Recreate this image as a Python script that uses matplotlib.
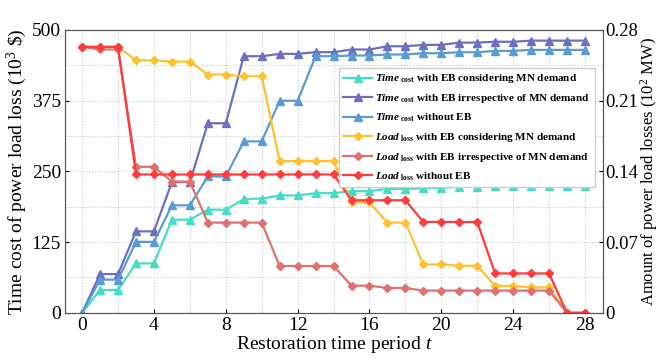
import matplotlib
matplotlib.use('Agg')
from matplotlib import pyplot as plt
from matplotlib.ticker import MultipleLocator

plt.rcParams['font.family'] = ['Liberation Serif', 'DejaVu Serif']
plt.rcParams['mathtext.fontset'] = 'custom'
plt.rcParams['mathtext.rm'] = 'Liberation Serif'
plt.rcParams['mathtext.it'] = 'Liberation Serif:italic'
plt.rcParams['mathtext.bf'] = 'Liberation Serif:bold'
plt.rcParams['mathtext.bfit'] = 'Liberation Serif:italic:bold'

t = list(range(29))

# time cost of power load loss (10^3 $)
time_mn = [0, 40.4, 40.4, 87.3, 87.3, 164.7, 164.7, 182.2, 182.2, 201, 202, 207.4, 207.4,
           211.5, 211.5, 215, 215, 219, 219, 220, 221, 223, 223, 224, 224, 224, 224, 224, 224]
time_irr = [0, 68.5, 68.5, 144, 144, 231, 231, 335, 335, 453.5, 453.5, 457.6, 457.6,
            460.6, 460.6, 465.3, 465.3, 471, 471, 473.5, 473.5, 477.5, 477.5, 479, 479,
            481, 481, 481, 481]
time_noeb = [0, 58.6, 58.6, 125.4, 125.4, 190, 190, 241, 241, 303, 303, 374.7, 374.7,
             453.5, 453.5, 454.7, 454.7, 456.5, 456.5, 458.8, 458.8, 460.5, 460.5,
             462.9, 462.9, 464.6, 464.6, 464.6, 464.6]

# amount of power load losses (10^2 MW)
load_mn = [0.2632, 0.2632, 0.2632, 0.2498, 0.2498, 0.2486, 0.2486, 0.2358, 0.2358, 0.2341,
           0.2341, 0.1501, 0.1501, 0.1501, 0.1501, 0.1092, 0.1092, 0.0893, 0.0893, 0.0479,
           0.0479, 0.0466, 0.0466, 0.0266, 0.0266, 0.0252, 0.0252, 0, 0]
load_irr = [0.2632, 0.2606, 0.2606, 0.1445, 0.1445, 0.1299, 0.1299, 0.0893, 0.0893, 0.0893,
            0.0893, 0.0463, 0.0463, 0.0463, 0.0463, 0.0269, 0.0269, 0.0246, 0.0246, 0.0220,
            0.0220, 0.0220, 0.0220, 0.0220, 0.0220, 0.0220, 0.0220, 0, 0]
load_noeb = [0.2632, 0.2632, 0.2632, 0.1369, 0.1369, 0.1369, 0.1369, 0.1369, 0.1369, 0.1369,
             0.1369, 0.1369, 0.1369, 0.1369, 0.1369, 0.1114, 0.1114, 0.1114, 0.1114, 0.0899,
             0.0899, 0.0899, 0.0899, 0.0390, 0.0390, 0.0390, 0.0390, 0, 0]

tc = r'$\mathbfit{Time}_{\ \mathbf{cost}}$'
ll = r'$\mathbfit{Load}_{\ \mathbf{loss}}$'

fig = plt.figure(figsize=(6.64, 3.6), dpi=100)
ax = fig.add_axes([0.098, 0.131, 0.81, 0.786])
ax2 = ax.twinx()

h1, = ax.plot(t, time_mn, color='#45DCC8', marker='^', ms=5.5, lw=1.6,
              label=tc + ' with EB considering MN demand')
h2, = ax.plot(t, time_irr, color='#6B70C0', marker='^', ms=5.5, lw=1.6,
              label=tc + ' with EB irrespective of MN demand')
h3, = ax.plot(t, time_noeb, color='#5A9BD2', marker='^', ms=5.5, lw=1.6,
              label=tc + ' without EB')
h4, = ax2.plot(t, load_mn, color='#FFC22E', marker='D', ms=4.5, lw=1.6,
               label=ll + ' with EB considering MN demand')
h5, = ax2.plot(t, load_irr, color='#DE7070', marker='D', ms=4.5, lw=1.6,
               label=ll + ' with EB irrespective of MN demand')
h6, = ax2.plot(t, load_noeb, color='#FF3B3B', marker='D', ms=4.5, lw=1.6,
               label=ll + ' without EB')

ax.set_xlim(-0.95, 29)
ax.set_ylim(0, 500)
ax2.set_ylim(0, 0.28)
ax.xaxis.set_major_locator(MultipleLocator(4))
ax.xaxis.set_minor_locator(MultipleLocator(2))
ax.yaxis.set_major_locator(MultipleLocator(125))
ax.yaxis.set_minor_locator(MultipleLocator(62.5))
ax2.set_yticks([0, 0.07, 0.14, 0.21, 0.28])
ax2.set_yticklabels(['0', '0.07', '0.14', '0.21', '0.28'])

ax.grid(True, which='both', linestyle=':', color='#c8c8c8', lw=0.8)
ax.set_axisbelow(True)

for a in (ax, ax2):
    a.tick_params(which='major', direction='in', length=3, labelsize=14, pad=3)
    a.tick_params(which='minor', length=0)
    for s in a.spines.values():
        s.set_color('#555555')
ax2.tick_params(labelsize=13.5, pad=2)

ax.set_xlabel('Restoration time period $t$', fontsize=14, labelpad=0)
ax.set_ylabel(r'Time cost of power load loss (10$^{3}$ \$)', fontsize=14, labelpad=2)
ax2.set_ylabel(r'Amount of power load losses (10$^{2}$ MW)', fontsize=12)
ax2.yaxis.set_label_coords(1.066, 0.5)

leg = ax2.legend(handles=[h1, h2, h3, h4, h5, h6], loc='upper right',
                 bbox_to_anchor=(0.995, 0.885), prop={'weight': 'bold', 'size': 8},
                 fancybox=False, edgecolor='#cccccc', framealpha=1,
                 handlelength=2.6, labelspacing=0.6, borderpad=0.4, handletextpad=0.3)

plt.savefig('out.png', dpi=100)
